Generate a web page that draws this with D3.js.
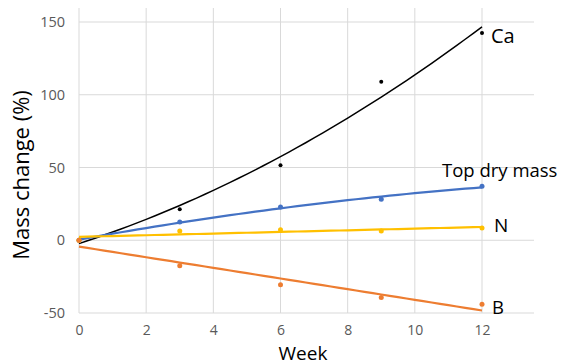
<!DOCTYPE html>
<html>
<head>
<meta charset="utf-8">
<script src="https://cdn.jsdelivr.net/npm/d3@7"></script>
<style>
  body { margin: 0; background: #fff; }
  svg { display: block; font-family: "Open Sans", sans-serif; }
</style>
</head>
<body>
<svg></svg>
<script>
// data
let weeks = [0, 3, 6, 9, 12];
let caValues = [0, 21.3, 51.5, 109, 142.4];
let dryMassValues = [0, 12.6, 22.9, 28.2, 37.1];
let nValues = [0, 6.4, 7.3, 6.4, 8.5];
let bValues = [0, -17.6, -30.5, -39.4, -44];

let xTicks = [0, 2, 4, 6, 8, 10, 12];
let yTicks = [-50, 0, 50, 100, 150];

let series = [
    { name: 'Ca', values: caValues, color: '#000000', order: 2, lw: 1.5, r: 2 },
    { name: 'Top dry mass', values: dryMassValues, color: '#4472C4', order: 2, lw: 2.2, r: 2.5 },
    { name: 'N', values: nValues, color: '#FFC000', order: 1, lw: 2.2, r: 2.5 },
    { name: 'B', values: bValues, color: '#ED7D31', order: 1, lw: 2.2, r: 2.5 }
];

let width = 561;
let height = 364;

let svg = d3.select('svg')
            .attr('width', width)
            .attr('height', height);

let xScale = d3.scaleLinear().domain([0, 12]).range([79, 482]);
let yScale = d3.scaleLinear().domain([-50, 150]).range([313, 22]);
let plotRight = 534;
let plotTop = 8;

// least squares polynomial (degree 1 or 2), like an Excel trendline
let polyfit = (xs, ys, deg) => {
    let n = deg + 1;
    let A = [];
    for (let i = 0; i < n; i++) {
        A.push([]);
        for (let j = 0; j < n; j++) A[i].push(d3.sum(xs, x => Math.pow(x, i + j)));
        A[i].push(d3.sum(xs, (x, k) => Math.pow(x, i) * ys[k]));
    }
    for (let i = 0; i < n; i++) {
        for (let k = i + 1; k < n; k++) {
            let f = A[k][i] / A[i][i];
            for (let j = i; j <= n; j++) A[k][j] -= f * A[i][j];
        }
    }
    let c = new Array(n).fill(0);
    for (let i = n - 1; i >= 0; i--) {
        let s = A[i][n];
        for (let j = i + 1; j < n; j++) s -= A[i][j] * c[j];
        c[i] = s / A[i][i];
    }
    return x => c.reduce((acc, ci, i) => acc + ci * Math.pow(x, i), 0);
};

// grid
svg.append('g')
   .selectAll('line')
   .data(yTicks)
   .enter()
   .append('line')
   .attr('x1', xScale(0))
   .attr('x2', plotRight)
   .attr('y1', d => yScale(d))
   .attr('y2', d => yScale(d))
   .attr('stroke', '#d9d9d9')
   .attr('stroke-width', 1);

svg.append('g')
   .selectAll('line')
   .data(xTicks)
   .enter()
   .append('line')
   .attr('x1', d => xScale(d))
   .attr('x2', d => xScale(d))
   .attr('y1', plotTop)
   .attr('y2', yScale(-50))
   .attr('stroke', '#d9d9d9')
   .attr('stroke-width', 1);

// axes (labels only)
let xAxis = d3.axisBottom(xScale).tickValues(xTicks).tickSize(0).tickPadding(12)
              .tickFormat(d => String(d));
let yAxis = d3.axisLeft(yScale).tickValues(yTicks).tickSize(0).tickPadding(14)
              .tickFormat(d => String(d));

svg.append('g')
   .attr('id', 'x-axis')
   .attr('transform', `translate(0, ${yScale(-50)})`)
   .call(xAxis)
   .call(g => g.select('.domain').remove())
   .selectAll('text')
   .attr('fill', '#595959')
   .style('font-size', '14px')
   .style('font-family', '"Open Sans", sans-serif');

svg.append('g')
   .attr('id', 'y-axis')
   .attr('transform', `translate(${xScale(0)}, 0)`)
   .call(yAxis)
   .call(g => g.select('.domain').remove())
   .selectAll('text')
   .attr('fill', '#595959')
   .style('font-size', '14.5px')
   .style('font-family', '"Open Sans", sans-serif');

// axis titles
svg.append('text')
   .attr('x', 303)
   .attr('y', 360)
   .attr('text-anchor', 'middle')
   .style('font-size', '19px')
   .text('Week');

svg.append('text')
   .attr('transform', 'translate(29, 175) rotate(-90)')
   .attr('text-anchor', 'middle')
   .style('font-size', '22px')
   .text('Mass change (%)');

// trendlines
let line = d3.line()
             .x(d => xScale(d[0]))
             .y(d => yScale(d[1]));

series.forEach(s => {
    let fit = polyfit(weeks, s.values, s.order);
    let pts = d3.range(0, 12.001, 0.25).map(x => [x, fit(x)]);
    svg.append('path')
       .datum(pts)
       .attr('d', line)
       .attr('fill', 'none')
       .attr('stroke', s.color)
       .attr('stroke-width', s.lw);
});

// points
series.forEach(s => {
    svg.append('g')
       .selectAll('circle')
       .data(weeks)
       .enter()
       .append('circle')
       .attr('cx', (d) => xScale(d))
       .attr('cy', (d, i) => yScale(s.values[i]))
       .attr('r', s.r)
       .attr('fill', s.color);
});

// series labels
let labels = [
    { text: 'Ca', x: 491, y: 43, size: 20 },
    { text: 'Top dry mass', x: 442, y: 177, size: 18.5 },
    { text: 'N', x: 494, y: 232, size: 19 },
    { text: 'B', x: 492, y: 314, size: 18.5 }
];

svg.append('g')
   .selectAll('text')
   .data(labels)
   .enter()
   .append('text')
   .attr('x', d => d.x)
   .attr('y', d => d.y)
   .style('font-size', d => d.size + 'px')
   .attr('fill', '#000')
   .text(d => d.text);
</script>
</body>
</html>
